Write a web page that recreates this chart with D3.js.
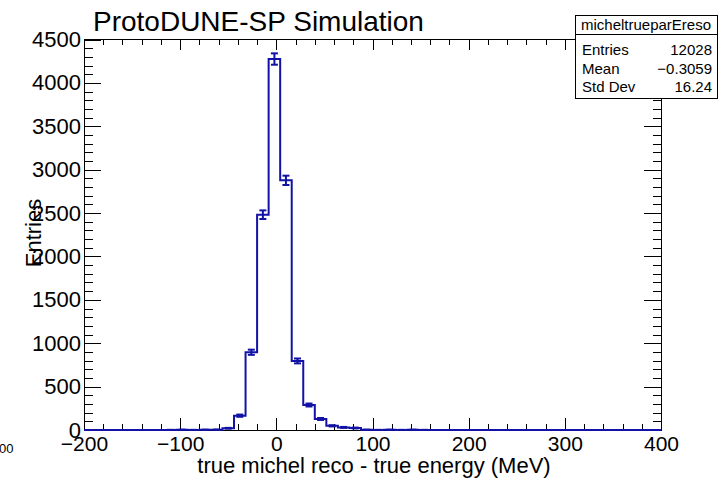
<!DOCTYPE html>
<html>
<head>
<meta charset="utf-8">
<script src="https://cdn.jsdelivr.net/npm/d3@7"></script>
<style>
  body { margin: 0; background: #fff; }
  svg { display: block; font-family: "Liberation Sans", Arial, Helvetica, sans-serif; }
</style>
</head>
<body>
<div id="chart"></div>
<script>
// histogram: 50 bins of 12 MeV from -200 to 400
const binLow = -200, binHigh = 400, binWidth = 12;
const counts = [
  0, 0, 0, 0, 0, 0, 0, 1, 2, 1,
  2, 3, 20, 165, 896, 2481, 4275, 2877, 796, 288,
  127, 48, 30, 23, 2, 1, 2, 1, 2, 1,
  0, 0, 0, 0, 0, 0, 0, 0, 0, 0,
  0, 0, 0, 0, 0, 0, 0, 0, 0, 0
];
const xTicks = [-200, -100, 0, 100, 200, 300, 400];
const yTicks = [0, 500, 1000, 1500, 2000, 2500, 3000, 3500, 4000, 4500];
const statsLabels = ["Entries", "Mean", "Std Dev"];
const statsValues = ["12028", "\u22120.3059", "16.24"];
const histName = "micheltrueparEreso";

const W = 720, H = 480;
const frame = { left: 84, right: 661, top: 39.5, bottom: 430 };
const font = '"Liberation Sans", Arial, Helvetica, sans-serif';
const blue = "#1212a6";

const svg = d3.select("#chart").append("svg")
  .attr("width", W).attr("height", H);

const x = d3.scaleLinear().domain([binLow, binHigh]).range([frame.left, frame.right]);
const y = d3.scaleLinear().domain([0, 4500]).range([frame.bottom, frame.top]);

const xMinor = d3.range(binLow, binHigh + 1, 20).filter(v => v % 100 !== 0);
const yMinor = d3.range(0, 4501, 100).filter(v => v % 500 !== 0);

// bottom axis
svg.append("g")
  .attr("transform", `translate(0,${frame.bottom})`)
  .call(d3.axisBottom(x).tickValues(xTicks).tickSize(-12).tickPadding(6).tickFormat(d3.format("d")))
  .call(g => g.select(".domain").remove())
  .call(g => g.selectAll("text").attr("fill", "#000").style("font-size", "21px").style("font-family", font));
svg.append("g")
  .attr("transform", `translate(0,${frame.bottom})`)
  .call(d3.axisBottom(x).tickValues(xMinor).tickSize(-6).tickFormat(""))
  .call(g => g.select(".domain").remove());

// top mirrored ticks
svg.append("g")
  .attr("transform", `translate(0,${frame.top})`)
  .call(d3.axisTop(x).tickValues(xTicks).tickSize(-10).tickFormat(""))
  .call(g => g.select(".domain").remove());
svg.append("g")
  .attr("transform", `translate(0,${frame.top})`)
  .call(d3.axisTop(x).tickValues(xMinor).tickSize(-5).tickFormat(""))
  .call(g => g.select(".domain").remove());

// left axis
svg.append("g")
  .attr("transform", `translate(${frame.left},0)`)
  .call(d3.axisLeft(y).tickValues(yTicks).tickSize(-17).tickPadding(3).tickFormat(d3.format("d")))
  .call(g => g.select(".domain").remove())
  .call(g => g.selectAll("text").attr("fill", "#000").style("font-size", "22px").style("font-family", font));
svg.append("g")
  .attr("transform", `translate(${frame.left},0)`)
  .call(d3.axisLeft(y).tickValues(yMinor).tickSize(-9).tickFormat(""))
  .call(g => g.select(".domain").remove());

// right mirrored ticks
svg.append("g")
  .attr("transform", `translate(${frame.right},0)`)
  .call(d3.axisRight(y).tickValues(yTicks).tickSize(-17).tickFormat(""))
  .call(g => g.select(".domain").remove());
svg.append("g")
  .attr("transform", `translate(${frame.right},0)`)
  .call(d3.axisRight(y).tickValues(yMinor).tickSize(-8).tickFormat(""))
  .call(g => g.select(".domain").remove());

svg.selectAll(".tick line").attr("stroke", "#000").attr("shape-rendering", "crispEdges");

// frame
svg.append("rect")
  .attr("x", frame.left).attr("y", frame.top)
  .attr("width", frame.right - frame.left).attr("height", frame.bottom - frame.top)
  .attr("fill", "none").attr("stroke", "#000").attr("shape-rendering", "crispEdges");

// histogram step line
const bins = counts.map((c, i) => ({ lo: binLow + i * binWidth, hi: binLow + (i + 1) * binWidth, c }));
const stepPts = [];
bins.forEach(b => { stepPts.push([b.lo, b.c]); stepPts.push([b.hi, b.c]); });
svg.append("path")
  .datum(stepPts)
  .attr("fill", "none")
  .attr("stroke", blue)
  .attr("stroke-width", 2)
  .attr("d", d3.line().x(d => x(d[0])).y(d => y(d[1])));

// error bars
const eb = svg.append("g").attr("stroke", blue).attr("stroke-width", 2);
bins.filter(b => b.c > 0).forEach(b => {
  const cx = x((b.lo + b.hi) / 2), e = Math.sqrt(b.c);
  const y0 = y(Math.max(0, b.c - e)), y1 = y(b.c + e);
  eb.append("line").attr("x1", cx).attr("x2", cx).attr("y1", y0).attr("y2", y1);
  eb.append("line").attr("x1", cx - 3.5).attr("x2", cx + 3.5).attr("y1", y0).attr("y2", y0);
  eb.append("line").attr("x1", cx - 3.5).attr("x2", cx + 3.5).attr("y1", y1).attr("y2", y1);
});

// title
svg.append("text")
  .attr("x", 93).attr("y", 31)
  .style("font-size", "28px")
  .text("ProtoDUNE-SP Simulation");

// axis titles
svg.append("text")
  .attr("x", 374).attr("y", 473)
  .attr("text-anchor", "middle")
  .style("font-size", "22px")
  .text("true michel reco - true energy (MeV)");

svg.append("text")
  .attr("transform", "translate(41,233)rotate(-90)")
  .attr("text-anchor", "middle")
  .style("font-size", "22px")
  .text("Entries");

// leftover label fragment at bottom left
svg.append("text")
  .attr("x", -1).attr("y", 453)
  .style("font-size", "13px")
  .text("00");

// stats box
const sb = { x: 575, y: 15, w: 142, h: 83 };
const stats = svg.append("g");
stats.append("rect")
  .attr("x", sb.x).attr("y", sb.y).attr("width", sb.w).attr("height", sb.h)
  .attr("fill", "#fff").attr("stroke", "#000").attr("shape-rendering", "crispEdges");
stats.append("line")
  .attr("x1", sb.x).attr("x2", sb.x + sb.w).attr("y1", 34.5).attr("y2", 34.5)
  .attr("stroke", "#000").attr("shape-rendering", "crispEdges");
stats.append("text")
  .attr("x", sb.x + sb.w / 2).attr("y", 30)
  .attr("text-anchor", "middle")
  .style("font-size", "15px")
  .text(histName);
const rowY = [55, 74, 92];
statsLabels.forEach((l, i) => {
  stats.append("text").attr("x", 582).attr("y", rowY[i]).style("font-size", "15px").text(l);
  stats.append("text").attr("x", 712).attr("y", rowY[i]).attr("text-anchor", "end").style("font-size", "15px").text(statsValues[i]);
});
</script>
</body>
</html>
